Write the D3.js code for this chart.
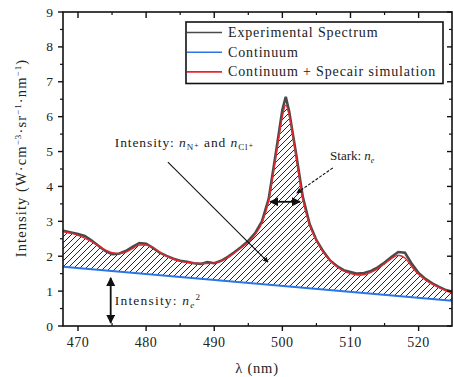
<!DOCTYPE html>
<html><head><meta charset="utf-8">
<script src="https://cdn.jsdelivr.net/npm/d3@7"></script>
<style>body{margin:0;background:#fff}svg{display:block}svg text{font-family:'Liberation Serif','DejaVu Serif',serif;fill:#222}</style>
</head><body><svg id="c" width="454" height="377" font-family="Liberation Serif, DejaVu Serif, serif"></svg>
<script>
const lam = [467.8,468,469,470,471,472,473,474,475,476,477,478,479,480,481,482,483,484,485,486,487,488,489,490,491,492,493,494,495,496,497,498,499,500,500.5,501,502,503,504,505,506,507,508,509,510,511,512,513,514,515,516,517,518,519,520,521,522,523,524,525];
const simulation = [2.72,2.70,2.66,2.60,2.52,2.42,2.30,2.18,2.10,2.08,2.12,2.22,2.32,2.32,2.25,2.12,2.00,1.92,1.86,1.82,1.80,1.79,1.79,1.81,1.86,1.96,2.10,2.25,2.40,2.62,2.95,3.60,4.80,6.00,6.33,6.05,4.90,3.65,2.90,2.45,2.12,1.88,1.70,1.58,1.50,1.46,1.47,1.54,1.64,1.78,1.93,2.03,1.95,1.70,1.48,1.32,1.20,1.10,1.01,0.95];
const experimental = [2.74,2.72,2.68,2.64,2.58,2.45,2.30,2.15,2.06,2.07,2.15,2.27,2.38,2.36,2.24,2.10,2.01,1.93,1.87,1.84,1.80,1.78,1.83,1.80,1.87,1.98,2.12,2.27,2.44,2.66,3.00,3.65,4.90,6.20,6.57,6.15,4.95,3.70,2.92,2.46,2.14,1.88,1.72,1.60,1.55,1.50,1.52,1.58,1.68,1.82,1.98,2.12,2.10,1.78,1.52,1.35,1.22,1.12,1.03,0.98];
const contLam = [467.8,525];
const continuum = [1.70,0.72];
const xTicks = [470,480,490,500,510,520];
const yTicks = [0,1,2,3,4,5,6,7,8,9];
const legendLabels = ["Experimental Spectrum","Continuum","Continuum + Specair simulation"];
const colors = {exp:"#4a4a4a", cont:"#2a76e6", sim:"#e8262a"};

const FONT = "'Liberation Serif','DejaVu Serif',serif";
const svg = d3.select("#c");
const L=63,R=452,T=12,B=326;
const x = d3.scaleLinear().domain([467.8,524.9]).range([L,R]);
const y = d3.scaleLinear().domain([0,9]).range([B,T]);
const cont = d3.scaleLinear().domain(contLam).range(continuum);

const defs = svg.append("defs");
const pat = defs.append("pattern").attr("id","hatch").attr("patternUnits","userSpaceOnUse").attr("width",6).attr("height",6);
pat.append("path").attr("d","M-1,1 l2,-2 M0,6 l6,-6 M5,7 l2,-2").attr("stroke","#111").attr("stroke-width",0.9);
defs.append("clipPath").attr("id","clip").append("rect").attr("x",L).attr("y",T).attr("width",R-L).attr("height",B-T);
defs.append("marker").attr("id","arr").attr("viewBox","0 0 10 10").attr("refX",9).attr("refY",5)
   .attr("markerWidth",5).attr("markerHeight",5).attr("orient","auto-start-reverse")
   .append("path").attr("d","M0,0 L10,5 L0,10 z").attr("fill","#111");

const g = svg.append("g").attr("clip-path","url(#clip)");
const pts = lam.map((l,i)=>({l,s:simulation[i],e:experimental[i]}));
g.append("path").datum(pts).attr("fill","url(#hatch)")
 .attr("d",d3.area().x(d=>x(d.l)).y0(d=>y(cont(d.l))).y1(d=>y(d.s)).curve(d3.curveMonotoneX));
g.append("path").datum(pts).attr("fill","none").attr("stroke",colors.exp).attr("stroke-width",2.6)
 .attr("d",d3.line().x(d=>x(d.l)).y(d=>y(d.e)));
g.append("path").datum(pts).attr("fill","none").attr("stroke",colors.sim).attr("stroke-width",1.4)
 .attr("d",d3.line().x(d=>x(d.l)).y(d=>y(d.s)).curve(d3.curveMonotoneX));
g.append("path").datum(contLam.map((l,i)=>({l,v:continuum[i]}))).attr("fill","none").attr("stroke",colors.cont).attr("stroke-width",2)
 .attr("d",d3.line().x(d=>x(d.l)).y(d=>y(d.v)));

// axes
const minorX = [475,485,495,505,515];
const minorY = [0.5,1.5,2.5,3.5,4.5,5.5,6.5,7.5,8.5];
const ax = svg.append("g").attr("stroke","#111");
ax.append("rect").attr("x",L).attr("y",T).attr("width",R-L).attr("height",B-T).attr("fill","none").attr("stroke-width",1.6);
xTicks.forEach(v=>{
  ax.append("line").attr("x1",x(v)).attr("x2",x(v)).attr("y1",B).attr("y2",B+5).attr("stroke-width",1.4);
  ax.append("line").attr("x1",x(v)).attr("x2",x(v)).attr("y1",T).attr("y2",T+6).attr("stroke-width",1.4);
});
minorX.forEach(v=>{
  ax.append("line").attr("x1",x(v)).attr("x2",x(v)).attr("y1",B).attr("y2",B-3).attr("stroke-width",1.2);
  ax.append("line").attr("x1",x(v)).attr("x2",x(v)).attr("y1",T).attr("y2",T+3).attr("stroke-width",1.2);
});
yTicks.forEach(v=>{
  ax.append("line").attr("x1",L).attr("x2",L-5).attr("y1",y(v)).attr("y2",y(v)).attr("stroke-width",1.4);
  ax.append("line").attr("x1",R).attr("x2",R-5).attr("y1",y(v)).attr("y2",y(v)).attr("stroke-width",1.4);
});
minorY.forEach(v=>{
  ax.append("line").attr("x1",L).attr("x2",L-3).attr("y1",y(v)).attr("y2",y(v)).attr("stroke-width",1.2);
  ax.append("line").attr("x1",R).attr("x2",R-3).attr("y1",y(v)).attr("y2",y(v)).attr("stroke-width",1.2);
});
xTicks.forEach(v=>svg.append("text").attr("font-family",FONT).attr("x",x(v)).attr("y",347).attr("text-anchor","middle").attr("font-size",14).attr("letter-spacing",0.5).text(v));
yTicks.forEach(v=>svg.append("text").attr("font-family",FONT).attr("x",53).attr("y",y(v)+4.5).attr("text-anchor","end").attr("font-size",13.5).text(v));

// axis titles
svg.append("text").attr("font-family",FONT).attr("x",257).attr("y",373).attr("text-anchor","middle").attr("font-size",14.5).attr("letter-spacing",0.8).text("λ (nm)");
const yl = svg.append("text").attr("font-family",FONT).attr("transform","translate(26,158) rotate(-90)").attr("text-anchor","middle").attr("font-size",14.5).attr("letter-spacing",1.1);
yl.append("tspan").text("Intensity (W·cm");
yl.append("tspan").attr("dy",-5).attr("font-size",9).text("−3");
yl.append("tspan").attr("dy",5).text("·sr");
yl.append("tspan").attr("dy",-5).attr("font-size",9).text("−1");
yl.append("tspan").attr("dy",5).text("·nm");
yl.append("tspan").attr("dy",-5).attr("font-size",9).text("−1");
yl.append("tspan").attr("dy",5).text(")");

// legend
svg.append("rect").attr("x",186).attr("y",22).attr("width",257).attr("height",61.5).attr("fill","#fff").attr("stroke","#111").attr("stroke-width",1.6);
const lc=[colors.exp,colors.cont,colors.sim];
legendLabels.forEach((t,i)=>{
  const yy=32.5+i*19.7;
  svg.append("line").attr("x1",187).attr("x2",222).attr("y1",yy).attr("y2",yy).attr("stroke",lc[i]).attr("stroke-width",1.6);
  svg.append("text").attr("font-family",FONT).attr("x",228).attr("y",yy+4.5).attr("font-size",14).attr("letter-spacing",0.85).text(t);
});

// annotations
const ann = svg.append("g").attr("font-family",FONT);
const t1 = ann.append("text").attr("x",x(475.4)).attr("y",y(5.13)).attr("font-size",13.5).attr("letter-spacing",0.9);
t1.append("tspan").text("Intensity: ");
t1.append("tspan").attr("font-style","italic").text("n");
t1.append("tspan").attr("dy",3).attr("font-size",9).text("N⁺");
t1.append("tspan").attr("dy",-3).text(" and ");
t1.append("tspan").attr("font-style","italic").text("n");
t1.append("tspan").attr("dy",3).attr("font-size",9).text("Cl⁺");
ann.append("line").attr("x1",x(483.2)).attr("y1",y(4.70)).attr("x2",x(497.9)).attr("y2",y(1.83)).attr("stroke","#111").attr("stroke-width",1.1).attr("marker-end","url(#arr)");

const t2 = ann.append("text").attr("x",x(507.0)).attr("y",y(4.76)).attr("font-size",13);
t2.append("tspan").text("Stark: ");
t2.append("tspan").attr("font-style","italic").text("n");
t2.append("tspan").attr("dy",3).attr("font-size",8).attr("font-style","italic").text("e");
ann.append("line").attr("x1",x(507.4)).attr("y1",y(4.53)).attr("x2",x(502.1)).attr("y2",y(3.81)).attr("stroke","#111").attr("stroke-width",1.1).attr("stroke-dasharray","3,1.5").attr("marker-end","url(#arr)");
ann.append("line").attr("x1",x(498.2)).attr("y1",y(3.56)).attr("x2",x(502.6)).attr("y2",y(3.56)).attr("stroke","#111").attr("stroke-width",1.8).attr("marker-end","url(#arr)").attr("marker-start","url(#arr)");

const t3 = ann.append("text").attr("x",x(475.4)).attr("y",y(0.60)).attr("font-size",13.5).attr("letter-spacing",1.2);
t3.append("tspan").text("Intensity: ");
t3.append("tspan").attr("font-style","italic").text("n");
t3.append("tspan").attr("dy",3).attr("font-size",9).attr("font-style","italic").text("e");
t3.append("tspan").attr("dy",-8).attr("font-size",9).text("2");
ann.append("line").attr("x1",x(474.8)).attr("y1",y(0.09)).attr("x2",x(474.8)).attr("y2",y(1.38)).attr("stroke","#111").attr("stroke-width",1.8).attr("marker-end","url(#arr)").attr("marker-start","url(#arr)");
</script></body></html>
